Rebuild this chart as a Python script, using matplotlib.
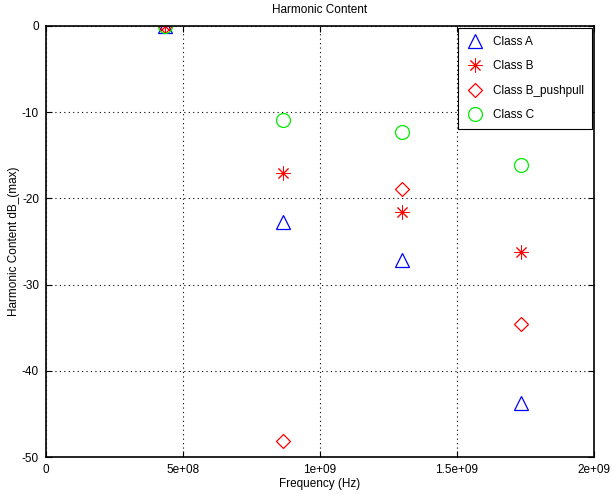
import matplotlib
matplotlib.use("Agg")
import matplotlib.pyplot as plt

plt.rcParams['font.family'] = ['Liberation Sans', 'DejaVu Sans']
plt.rcParams['axes.unicode_minus'] = False

# harmonic frequencies (Hz)
freqs = [4.33e8, 8.66e8, 1.299e9, 1.732e9]

# harmonic content in dB relative to max
class_a = [0, -22.7, -27.2, -43.7]
class_b = [0, -17.0, -21.6, -26.2]
class_b_pp = [0, -48.2, -18.9, -34.6]
class_c = [0, -10.9, -12.3, -16.1]

labels = ['Class A', 'Class B', 'Class B_pushpull', 'Class C']

fig = plt.figure(figsize=(6.12, 4.96), dpi=100)
ax = fig.add_axes([0.0752, 0.0786, 0.8954, 0.869])

ax.plot(freqs, class_a, linestyle='none', marker='^', markersize=10,
        markerfacecolor='none', markeredgecolor='blue', markeredgewidth=0.9, label=labels[0])
ax.plot(freqs, class_b, linestyle='none', marker=(8, 2, 0), markersize=10,
        color='red', markeredgewidth=0.7, label=labels[1])
ax.plot(freqs, class_b_pp, linestyle='none', marker='D', markersize=7.5,
        markerfacecolor='none', markeredgecolor='red', markeredgewidth=0.9, label=labels[2])
ax.plot(freqs, class_c, linestyle='none', marker='o', markersize=10,
        markerfacecolor='none', markeredgecolor='#00ee00', markeredgewidth=0.9, label=labels[3])

ax.set_xlim(0, 2e9)
ax.set_ylim(-50, 0)
ax.set_xticks([0, 5e8, 1e9, 1.5e9, 2e9])
ax.set_xticklabels(['0', '5e+08', '1e+09', '1.5e+09', '2e+09'])
ax.set_yticks([-50, -40, -30, -20, -10, 0])
ax.tick_params(direction='in', length=4, labelsize=8.5, top=True, right=True, width=0.8, pad=5)

ax.grid(True, color='black', linestyle=(0, (1, 3)), linewidth=0.8)
for s in ax.spines.values():
    s.set_linewidth(1.2)

ax.set_title('Harmonic Content', fontsize=8.5, pad=9)
ax.set_xlabel('Frequency (Hz)', fontsize=8.5, labelpad=1.5)
ax.set_ylabel('Harmonic Content dB_(max)', fontsize=8.5)
ax.yaxis.set_label_coords(-0.048, 0.5)

leg = ax.legend(loc='upper right', fontsize=8.5, fancybox=False, framealpha=1,
                edgecolor='black', borderpad=0.7, labelspacing=1.05,
                handletextpad=0.7, borderaxespad=0.15, handlelength=1.6, markerscale=1.0)
leg.get_frame().set_linewidth(0.8)

fig.savefig('out.png', dpi=100)
